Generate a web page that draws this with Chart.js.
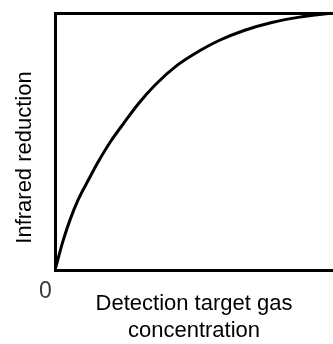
<!DOCTYPE html>
<html>
<head>
<meta charset="utf-8">
<script src="https://cdn.jsdelivr.net/npm/chart.js@4"></script>
<style>
  html, body { margin: 0; padding: 0; background: #fff; }
  #wrap { width: 333px; height: 344px; }
</style>
</head>
<body>
<div id="wrap"><canvas id="chart" width="333" height="344"></canvas></div>
<script>
// values (both axes on a 0-100 scale)
const concentration = [0, 3, 5.4, 8.3, 12, 15.5, 20, 25, 30, 36, 44, 52, 59, 68, 78, 88, 100];
const reduction = [0, 11.7, 19.5, 27.3, 35, 42, 50, 57.5, 64.7, 72, 79.7, 85.3, 89.3, 93.2, 96.3, 98.4, 100];

const xTitle = ["Detection target gas", "concentration"];
const yTitle = "Infrared reduction";
const originLabel = "0";

const FONT = "'Liberation Sans', Arial, sans-serif";

// y title and origin label sit off-centre, so draw them here
const extraText = {
  id: "extraText",
  afterDraw(chart) {
    const ctx = chart.ctx;
    ctx.save();
    ctx.textAlign = "center";
    ctx.textBaseline = "middle";

    ctx.font = "23px " + FONT;
    ctx.fillStyle = "#3a3a3a";
    ctx.fillText(originLabel, 45.5, 291.5);

    ctx.font = "22px " + FONT;
    ctx.fillStyle = "#000";
    ctx.translate(25, 157.5);
    ctx.rotate(-Math.PI / 2);
    ctx.fillText(yTitle, 0, 0);
    ctx.restore();
  }
};

const hiddenAxis = {
  grid: { display: false, drawTicks: false },
  ticks: { display: false },
  border: { display: true, color: "#000", width: 3 }
};

new Chart(document.getElementById("chart"), {
  type: "line",
  data: {
    datasets: [{
      data: concentration.map((c, i) => ({ x: c, y: reduction[i] })),
      borderColor: "#000",
      borderWidth: 3,
      pointRadius: 0,
      cubicInterpolationMode: "monotone",
      fill: false
    }]
  },
  options: {
    responsive: false,
    animation: false,
    layout: { padding: { top: 13, right: 0, bottom: 0, left: 0 } },
    plugins: { legend: { display: false }, tooltip: { enabled: false } },
    scales: {
      x: {
        ...hiddenAxis,
        type: "linear",
        min: 0,
        max: 100,
        title: {
          display: true,
          text: xTitle,
          color: "#000",
          font: { family: FONT, size: 22, lineHeight: "27px" },
          padding: { top: 20, bottom: 0 }
        },
        afterFit(scale) { scale.height = 74; }
      },
      xTop: {
        ...hiddenAxis,
        type: "linear",
        position: "top",
        min: 0,
        max: 100,
        afterFit(scale) { scale.height = 0; }
      },
      y: {
        ...hiddenAxis,
        min: 0,
        max: 100,
        afterFit(scale) { scale.width = 55; }
      }
    }
  },
  plugins: [extraText]
});
</script>
</body>
</html>
